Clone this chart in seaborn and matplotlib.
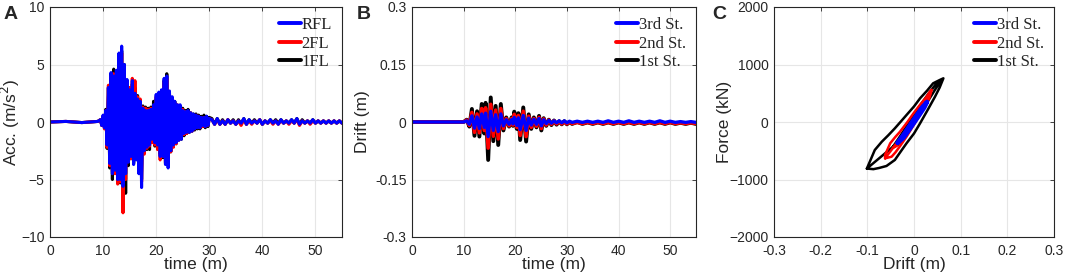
import matplotlib
matplotlib.use("Agg")
import matplotlib.pyplot as plt
import seaborn as sns

###############################################################################
# data

# panel A: floor accelerations (m/s^2)
acc_time = [
    0.0, 3.0, 6.0, 9.0,
    9.5, 9.75, 10.0, 10.25, 10.5, 10.75, 11.0, 11.25, 11.5, 11.75,
    12.0, 12.25, 12.5, 12.75, 13.0, 13.25, 13.5, 13.75, 14.0, 14.25,
    14.5, 14.75, 15.0, 15.25, 15.5, 15.75, 16.0, 16.25, 16.5, 16.75,
    17.0, 17.25, 17.5, 17.75, 18.0, 18.25, 18.5, 18.75, 19.0, 19.25,
    19.5, 19.75, 20.0, 20.25, 20.5, 20.75, 21.0, 21.25, 21.5, 21.75,
    22.0, 22.25, 22.5, 22.75, 23.0, 23.25, 23.5, 23.75, 24.0, 24.25,
    24.5, 24.75, 25.0, 25.25, 25.5, 25.75, 26.0, 26.25, 26.5, 26.75,
    27.0, 27.25, 27.5, 27.75, 28.0, 28.25, 28.5, 28.75, 29.0, 29.25,
    29.5, 29.75, 30.0,
    30.5, 31.0, 31.5, 32.0, 32.5, 33.0, 33.5, 34.0, 34.5, 35.0,
    35.5, 36.0, 36.5, 37.0, 37.5, 38.0, 38.5, 39.0, 39.5, 40.0,
    40.5, 41.0, 41.5, 42.0, 42.5, 43.0, 43.5, 44.0, 44.5, 45.0,
    45.5, 46.0, 46.5, 47.0, 47.5, 48.0, 48.5, 49.0, 49.5, 50.0,
    50.5, 51.0, 51.5, 52.0, 52.5, 53.0, 53.5, 54.0, 54.5, 55.0,
]

acc_rfl = [
    0.0, 0.05, -0.05, 0.05,
    0.2, -0.3, 0.6, -0.5, 1.0, -2.0, 3.0, -3.6, 4.3, -4.5,
    4.0, -4.2, 4.5, -5.0, 6.0, -5.0, 6.6, -5.6, 5.0, -4.5,
    3.7, -3.5, 2.8, -3.0, 3.6, -3.7, 2.5, -3.3, 2.0, -4.5,
    1.8, -5.7, 1.2, -2.5, 1.0, -2.2, 1.0, -2.0, 1.1, -1.5,
    1.5, -1.8, 2.4, -2.0, 2.6, -3.0, 2.8, -3.0, 3.8, -3.7,
    4.0, -4.0, 2.7, -2.5, 2.2, -2.0, 1.8, -1.8, 1.5, -1.6,
    1.5, -1.5, 1.0, -1.0, 0.9, -0.9, 1.0, -0.9, 0.8, -0.8,
    0.7, -0.6, 0.6, -0.5, 0.5, -0.5, 0.4, -0.3, 0.4, -0.4,
    0.5, -0.3, 0.3,
    0.2, -0.2, 0.3, -0.2, 0.1, -0.2, 0.2, -0.1, 0.1, -0.2,
    0.1, -0.1, 0.3, -0.2, 0.2, -0.1, 0.1, -0.1, 0.2, -0.2,
    0.1, -0.1, 0.2, -0.1, 0.1, -0.2, 0.2, -0.1, 0.1, -0.1,
    0.2, -0.1, 0.3, -0.2, 0.1, -0.1, 0.1, -0.1, 0.2, -0.1,
    0.1, -0.1, 0.1, -0.1, 0.1, -0.1, 0.1, -0.1, 0.1, -0.1,
]

acc_2fl = [
    0.0, 0.05, -0.05, 0.05,
    0.2, -0.3, 0.5, -0.6, 1.0, -2.2, 3.2, -3.8, 4.0, -4.3,
    4.2, -4.5, 4.0, -5.4, 5.0, -5.2, 6.0, -7.9, 4.8, -5.0,
    3.5, -3.3, 3.0, -3.2, 3.8, -3.4, 3.6, -3.0, 2.2, -4.2,
    2.0, -5.2, 1.3, -2.8, 1.2, -2.3, 1.1, -2.1, 1.2, -1.8,
    1.4, -2.0, 2.2, -2.4, 2.4, -3.3, 2.6, -3.0, 3.5, -3.5,
    3.8, -3.7, 2.5, -2.6, 2.0, -2.2, 1.7, -1.9, 1.5, -1.6,
    1.3, -1.4, 1.1, -1.1, 0.9, -1.0, 0.9, -0.8, 0.8, -0.8,
    0.6, -0.6, 0.6, -0.5, 0.5, -0.5, 0.4, -0.4, 0.4, -0.4,
    0.4, -0.3, 0.3,
    0.2, -0.2, 0.2, -0.2, 0.1, -0.2, 0.2, -0.1, 0.1, -0.2,
    0.1, -0.3, 0.2, -0.2, 0.1, -0.2, 0.1, -0.1, 0.2, -0.2,
    0.1, -0.1, 0.1, -0.2, 0.1, -0.2, 0.1, -0.1, 0.1, -0.2,
    0.1, -0.1, 0.2, -0.3, 0.1, -0.1, 0.1, -0.2, 0.1, -0.1,
    0.1, -0.1, 0.1, -0.1, 0.1, -0.1, 0.1, -0.1, 0.1, -0.1,
]

acc_1fl = [
    0.0, 0.05, -0.05, 0.05,
    0.2, -0.3, 0.5, -0.5, 1.1, -2.3, 3.0, -4.0, 4.2, -5.0,
    4.6, -4.4, 4.3, -5.0, 5.2, -5.3, 6.2, -6.0, 5.0, -6.2,
    3.4, -3.8, 3.0, -3.2, 3.3, -3.6, 3.0, -3.2, 2.3, -4.0,
    1.9, -5.0, 1.4, -2.6, 1.3, -2.4, 1.2, -2.4, 1.3, -1.7,
    1.8, -2.1, 2.0, -2.2, 2.5, -2.8, 2.7, -3.1, 3.6, -3.6,
    4.2, -3.8, 2.6, -2.6, 2.1, -2.1, 1.8, -1.9, 1.4, -1.5,
    1.4, -1.5, 1.2, -1.2, 1.0, -1.0, 1.1, -0.9, 0.8, -0.8,
    0.7, -0.7, 0.7, -0.6, 0.6, -0.6, 0.5, -0.4, 0.6, -0.5,
    0.5, -0.4, 0.4,
    0.3, -0.2, 0.3, -0.2, 0.2, -0.2, 0.2, -0.1, 0.2, -0.2,
    0.2, -0.2, 0.3, -0.2, 0.2, -0.1, 0.2, -0.1, 0.2, -0.2,
    0.1, -0.1, 0.2, -0.1, 0.2, -0.1, 0.2, -0.1, 0.1, -0.1,
    0.2, -0.1, 0.3, -0.2, 0.2, -0.1, 0.1, -0.1, 0.2, -0.1,
    0.1, -0.1, 0.1, -0.1, 0.1, -0.1, 0.1, -0.1, 0.1, -0.1,
]

# panel B: story drifts (m)
drift_time = [
    0.0, 10.0, 10.6, 11.1, 11.6, 12.1, 12.6, 13.05, 13.5, 14.0,
    14.25, 14.75, 15.25, 15.75, 16.2, 16.7, 17.2, 17.7, 18.25, 18.8,
    19.3, 19.55, 19.8, 20.3, 20.6, 20.95, 21.55, 22.1, 22.6, 23.1,
    23.6, 24.1, 24.6, 25.05, 25.5, 26.0, 26.5, 27.0, 27.5, 28.0,
    28.5, 29.0, 29.5, 30.0, 30.5, 31.0, 32.0, 33.0, 34.0, 35.0,
    36.0, 37.0, 38.0, 39.0, 40.0, 41.0, 42.0, 43.0, 44.0, 45.0,
    46.0, 47.0, 48.0, 49.0, 50.0, 51.0, 52.0, 53.0, 54.0, 55.0,
]

drift_1st = [
    0.0, 0.0, 0.006, -0.012, 0.034, -0.036, 0.028, -0.038, 0.047, -0.030,
    0.050, -0.099, 0.064, -0.050, 0.042, -0.060, 0.047, -0.022, 0.012, -0.012,
    0.012, -0.010, 0.027, -0.018, 0.023, -0.047, 0.038, -0.051, 0.020, -0.018,
    0.012, -0.014, 0.016, -0.022, 0.010, -0.010, 0.006, -0.008, 0.004, -0.007,
    0.002, -0.006, 0.002, -0.006, 0.000, -0.005, 0.000, -0.005, -0.001, -0.005,
    -0.001, -0.005, -0.001, -0.005, -0.001, -0.005, -0.001, -0.005, -0.001, -0.005,
    -0.001, -0.005, -0.001, -0.005, -0.001, -0.005, -0.002, -0.005, -0.002, -0.005,
]

drift_2nd = [
    0.0, 0.0, 0.005, -0.009, 0.025, -0.027, 0.021, -0.028, 0.035, -0.022,
    0.037, -0.068, 0.046, -0.037, 0.031, -0.044, 0.035, -0.017, 0.009, -0.010,
    0.009, -0.008, 0.020, -0.014, 0.017, -0.035, 0.028, -0.038, 0.015, -0.014,
    0.009, -0.011, 0.012, -0.017, 0.008, -0.008, 0.005, -0.006, 0.003, -0.005,
    0.001, -0.005, 0.001, -0.005, 0.000, -0.004, -0.001, -0.004, -0.001, -0.004,
    -0.001, -0.004, -0.001, -0.004, -0.001, -0.004, -0.001, -0.004, -0.001, -0.004,
    -0.001, -0.004, -0.001, -0.004, -0.001, -0.004, -0.002, -0.004, -0.002, -0.004,
]

drift_3rd = [
    0.0, 0.0, 0.003, -0.006, 0.016, -0.016, 0.013, -0.017, 0.021, -0.014,
    0.023, -0.038, 0.028, -0.022, 0.019, -0.025, 0.021, -0.010, 0.006, -0.006,
    0.006, -0.005, 0.012, -0.009, 0.011, -0.020, 0.017, -0.022, 0.010, -0.008,
    0.007, -0.006, 0.009, -0.010, 0.006, -0.004, 0.004, -0.003, 0.003, -0.002,
    0.003, -0.002, 0.003, -0.002, 0.002, -0.001, 0.002, -0.001, 0.002, -0.001,
    0.002, -0.001, 0.003, -0.001, 0.002, -0.001, 0.003, -0.001, 0.002, -0.001,
    0.002, -0.001, 0.003, -0.001, 0.002, -0.001, 0.001, -0.001, 0.001, -0.001,
]

# panel C: hysteresis loops (drift in m, force in kN)
loop_1st_drift = [
    -0.101, -0.084, -0.069, -0.055, -0.041, -0.028, -0.016, 0.000, 0.013, 0.028,
    0.041, 0.055, 0.063, 0.055, 0.045, 0.030, 0.013, 0.000, -0.016, -0.029,
    -0.041, -0.059, -0.075, -0.087, -0.101,
    -0.045, -0.030, -0.010, 0.010, 0.030, 0.050, 0.058, 0.045, 0.025, 0.005,
    -0.015, -0.035, -0.045,
]
loop_1st_force = [
    -810, -487, -343, -230, -110, 10, 122, 270, 412, 545,
    673, 730, 760, 600, 440, 220, -23, -200, -370, -520,
    -660, -765, -800, -820, -810,
    -430, -250, 0, 250, 480, 690, 720, 560, 300, 50,
    -200, -400, -430,
]

loop_2nd_drift = [
    -0.062, -0.062, -0.051, -0.040, -0.030, -0.015, -0.001, 0.013, 0.027, 0.034,
    0.038, 0.033, 0.027, 0.017, 0.006, -0.005, -0.016, -0.030, -0.040, -0.048,
    -0.062,
    -0.045, -0.030, -0.012, 0.005, 0.020, 0.032, 0.026, 0.012, -0.005, -0.022,
    -0.038, -0.045,
]
loop_2nd_force = [
    -632, -574, -370, -260, -169, -10, 151, 300, 440, 527,
    560, 420, 325, 180, 35, -110, -255, -420, -530, -603,
    -632,
    -450, -290, -80, 120, 300, 470, 330, 150, -70, -270,
    -420, -450,
]

loop_3rd_drift = [
    -0.035, -0.025, -0.010, 0.005, 0.018, 0.028, 0.022, 0.008, -0.008, -0.022,
    -0.033, -0.035,
]
loop_3rd_force = [
    -360, -250, -70, 110, 260, 350, 250, 80, -110, -270,
    -350, -360,
]

###############################################################################

sns.set_style("whitegrid")
plt.rcParams['font.family'] = ['Liberation Sans', 'DejaVu Sans']

BLUE = '#0000ff'
RED = '#ff0000'
BLACK = '#000000'

fig = plt.figure(figsize=(10.65, 2.8), dpi=100)
axA = fig.add_axes([50 / 1065, 43 / 280, 292 / 1065, 230 / 280])
axB = fig.add_axes([412 / 1065, 43 / 280, 284 / 1065, 230 / 280])
axC = fig.add_axes([774 / 1065, 43 / 280, 280 / 1065, 230 / 280])


def style_axes(ax, ylab_x):
    ax.grid(True, color='#e6e6e6', lw=0.8)
    for s in ax.spines.values():
        s.set_color('#262626')
        s.set_linewidth(0.8)
    ax.tick_params(direction='in', length=3, width=0.6, top=True, right=True,
                   labelsize=10, colors='#262626')
    ax.tick_params(axis='x', pad=5)
    ax.tick_params(axis='y', pad=4)
    for lab in ax.get_xticklabels() + ax.get_yticklabels():
        lab.set_color('#262626')
    ax.yaxis.set_label_coords(ylab_x, 0.5)
    ax.xaxis.set_label_coords(0.5, -0.085)


def add_legend(ax, labels):
    handles, _ = ax.get_legend_handles_labels()
    leg = ax.legend(handles[::-1], labels, loc='upper right', frameon=False,
                    prop={'family': 'Liberation Serif', 'size': 12},
                    handlelength=1.3, handletextpad=0.05, labelspacing=0.15,
                    borderaxespad=0.2)
    for ln in leg.get_lines():
        ln.set_linewidth(2.8)


# A
sns.lineplot(x=acc_time, y=acc_1fl, sort=False, estimator=None, color=BLACK,
             lw=2.2, ax=axA, label='1FL')
sns.lineplot(x=acc_time, y=acc_2fl, sort=False, estimator=None, color=RED,
             lw=2.2, ax=axA, label='2FL')
sns.lineplot(x=acc_time, y=acc_rfl, sort=False, estimator=None, color=BLUE,
             lw=2.2, ax=axA, label='RFL')
axA.set_xlim(0, 55)
axA.set_ylim(-10, 10)
axA.set_xticks([0, 10, 20, 30, 40, 50])
axA.set_yticks([-10, -5, 0, 5, 10])
axA.set_xlabel('time (m)', fontsize=12.5)
axA.set_ylabel('Acc. (m/s$^2$)', fontsize=12.5)
style_axes(axA, -0.095)
add_legend(axA, ['RFL', '2FL', '1FL'])

# B
sns.lineplot(x=drift_time, y=drift_1st, sort=False, estimator=None, color=BLACK,
             lw=2.8, ax=axB, label='1st St.')
sns.lineplot(x=drift_time, y=drift_2nd, sort=False, estimator=None, color=RED,
             lw=2.6, ax=axB, label='2nd St.')
sns.lineplot(x=drift_time, y=drift_3rd, sort=False, estimator=None, color=BLUE,
             lw=2.4, ax=axB, label='3rd St.')
axB.set_xlim(0, 55)
axB.set_ylim(-0.3, 0.3)
axB.set_xticks([0, 10, 20, 30, 40, 50])
axB.set_yticks([-0.3, -0.15, 0, 0.15, 0.3])
axB.set_yticklabels(['-0.3', '-0.15', '0', '0.15', '0.3'])
axB.set_xlabel('time (m)', fontsize=12.5)
axB.set_ylabel('Drift (m)', fontsize=12.5)
style_axes(axB, -0.148)
add_legend(axB, ['3rd St.', '2nd St.', '1st St.'])

# C
sns.lineplot(x=loop_1st_drift, y=loop_1st_force, sort=False, estimator=None,
             color=BLACK, lw=1.8, ax=axC, label='1st St.')
sns.lineplot(x=loop_2nd_drift, y=loop_2nd_force, sort=False, estimator=None,
             color=RED, lw=1.8, ax=axC, label='2nd St.')
sns.lineplot(x=loop_3rd_drift, y=loop_3rd_force, sort=False, estimator=None,
             color=BLUE, lw=3.2, ax=axC, label='3rd St.')
axC.set_xlim(-0.3, 0.3)
axC.set_ylim(-2000, 2000)
axC.set_xticks([-0.3, -0.2, -0.1, 0, 0.1, 0.2, 0.3])
axC.set_xticklabels(['-0.3', '-0.2', '-0.1', '0', '0.1', '0.2', '0.3'])
axC.set_yticks([-2000, -1000, 0, 1000, 2000])
axC.set_xlabel('Drift (m)', fontsize=12.5)
axC.set_ylabel('Force (kN)', fontsize=12.5)
style_axes(axC, -0.15)
add_legend(axC, ['3rd St.', '2nd St.', '1st St.'])

for x, letter in [(0.003, 'A'), (0.335, 'B'), (0.669, 'C')]:
    fig.text(x, 0.98, letter, fontsize=14, fontweight='bold', va='top',
             ha='left')

fig.savefig('out.png', dpi=100)
